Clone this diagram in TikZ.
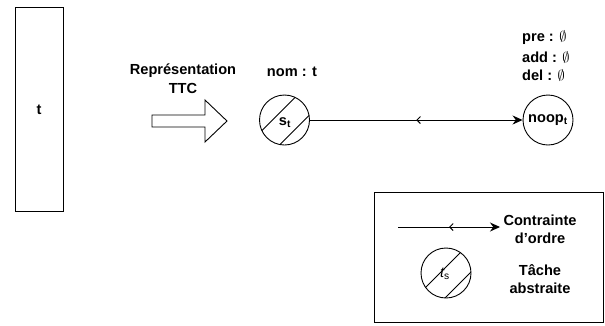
\documentclass[tikz,border=0pt]{standalone}
\usepackage{fontspec}
\setmainfont{Liberation Sans}
\usetikzlibrary{arrows.meta,decorations.markings,calc}
\tikzset{
  lbl/.style={font=\bfseries\fontsize{14.6}{16}\selectfont, inner sep=0pt},
  taskcirc/.style={circle, draw, line width=0.9pt, minimum size=50pt, inner sep=0pt},
  order/.style={line width=0.9pt, -{Stealth[length=10pt,width=9pt]},
    postaction={decorate},
    decoration={markings, mark=at position 0.5 with {\arrowreversed[line width=1pt]{Straight Barb[length=3.5pt,width=7pt]}}}},
  hatch/.style={line width=0.9pt}
}
\begin{document}
\begin{tikzpicture}[x=1pt,y=-1pt]
\useasboundingbox (0,0) rectangle (605,325);
% task rectangle
\node[draw, line width=0.9pt, minimum width=48pt, minimum height=204pt, inner sep=0pt] (t) at (39,109) {};
\node[lbl] (tl) at (39,110) {t};
% block arrow
\draw[line width=0.9pt] (152,115) -- (205,115) -- (205,100) -- (227,121) -- (205,142) -- (205,127) -- (152,127) -- cycle;
\node[lbl] (rep) at (183,71) {Représentation};
\node[lbl] (ttc) at (183,88) {TTC};
% abstract task s_t
\node[taskcirc] (st) at (284.5,120) {};
\begin{scope}
  \clip (284.5,120) circle (25);
  \draw[hatch] ($(284.5,120)+(-6,-6)+(-40,40)$) -- ++(80,-80);
  \draw[hatch] ($(284.5,120)+(10,10)+(-40,40)$) -- ++(80,-80);
\end{scope}
\node[lbl, inner sep=0.5pt] (stl) at (285,123) {s\textsubscript{t}};
\node[lbl] (nom) at (292,72) {nom : t};
% noop
\node[taskcirc] (noop) at (548,120) {};
\node[lbl] (noopl) at (548,120) {noop\textsubscript{t}};
\node[lbl, anchor=west] (pre) at (522,38) {pre : $\emptyset$};
\node[lbl, anchor=west] (add) at (522,57) {add : $\emptyset$};
\node[lbl, anchor=west] (del) at (522,75) {del : $\emptyset$};
\draw[order] (st) -- (noop);
% legend
\node[draw, line width=0.9pt, minimum width=229pt, minimum height=130pt, inner sep=0pt] (leg) at (488.5,257) {};
\coordinate (la) at (398,227);
\coordinate (lb) at (500,227);
\draw[order] (la) -- (lb);
\node[lbl, align=center] (co) at (540,229) {Contrainte\\[2pt]d'ordre};
\node[taskcirc] (ts) at (446,273) {};
\begin{scope}
  \clip (446,273) circle (25);
  \draw[hatch] ($(446,273)+(-3,-3)+(-40,40)$) -- ++(80,-80);
  \draw[hatch] ($(446,273)+(12,12)+(-40,40)$) -- ++(80,-80);
\end{scope}
\node[font=\itshape\fontsize{14.6}{16}\selectfont, inner sep=0.5pt] (tsl) at (445,274) {t\textsubscript{\upshape s}};
\node[lbl, align=center] (ta) at (540,279) {Tâche\\[2pt]abstraite};
\end{tikzpicture}
\end{document}
